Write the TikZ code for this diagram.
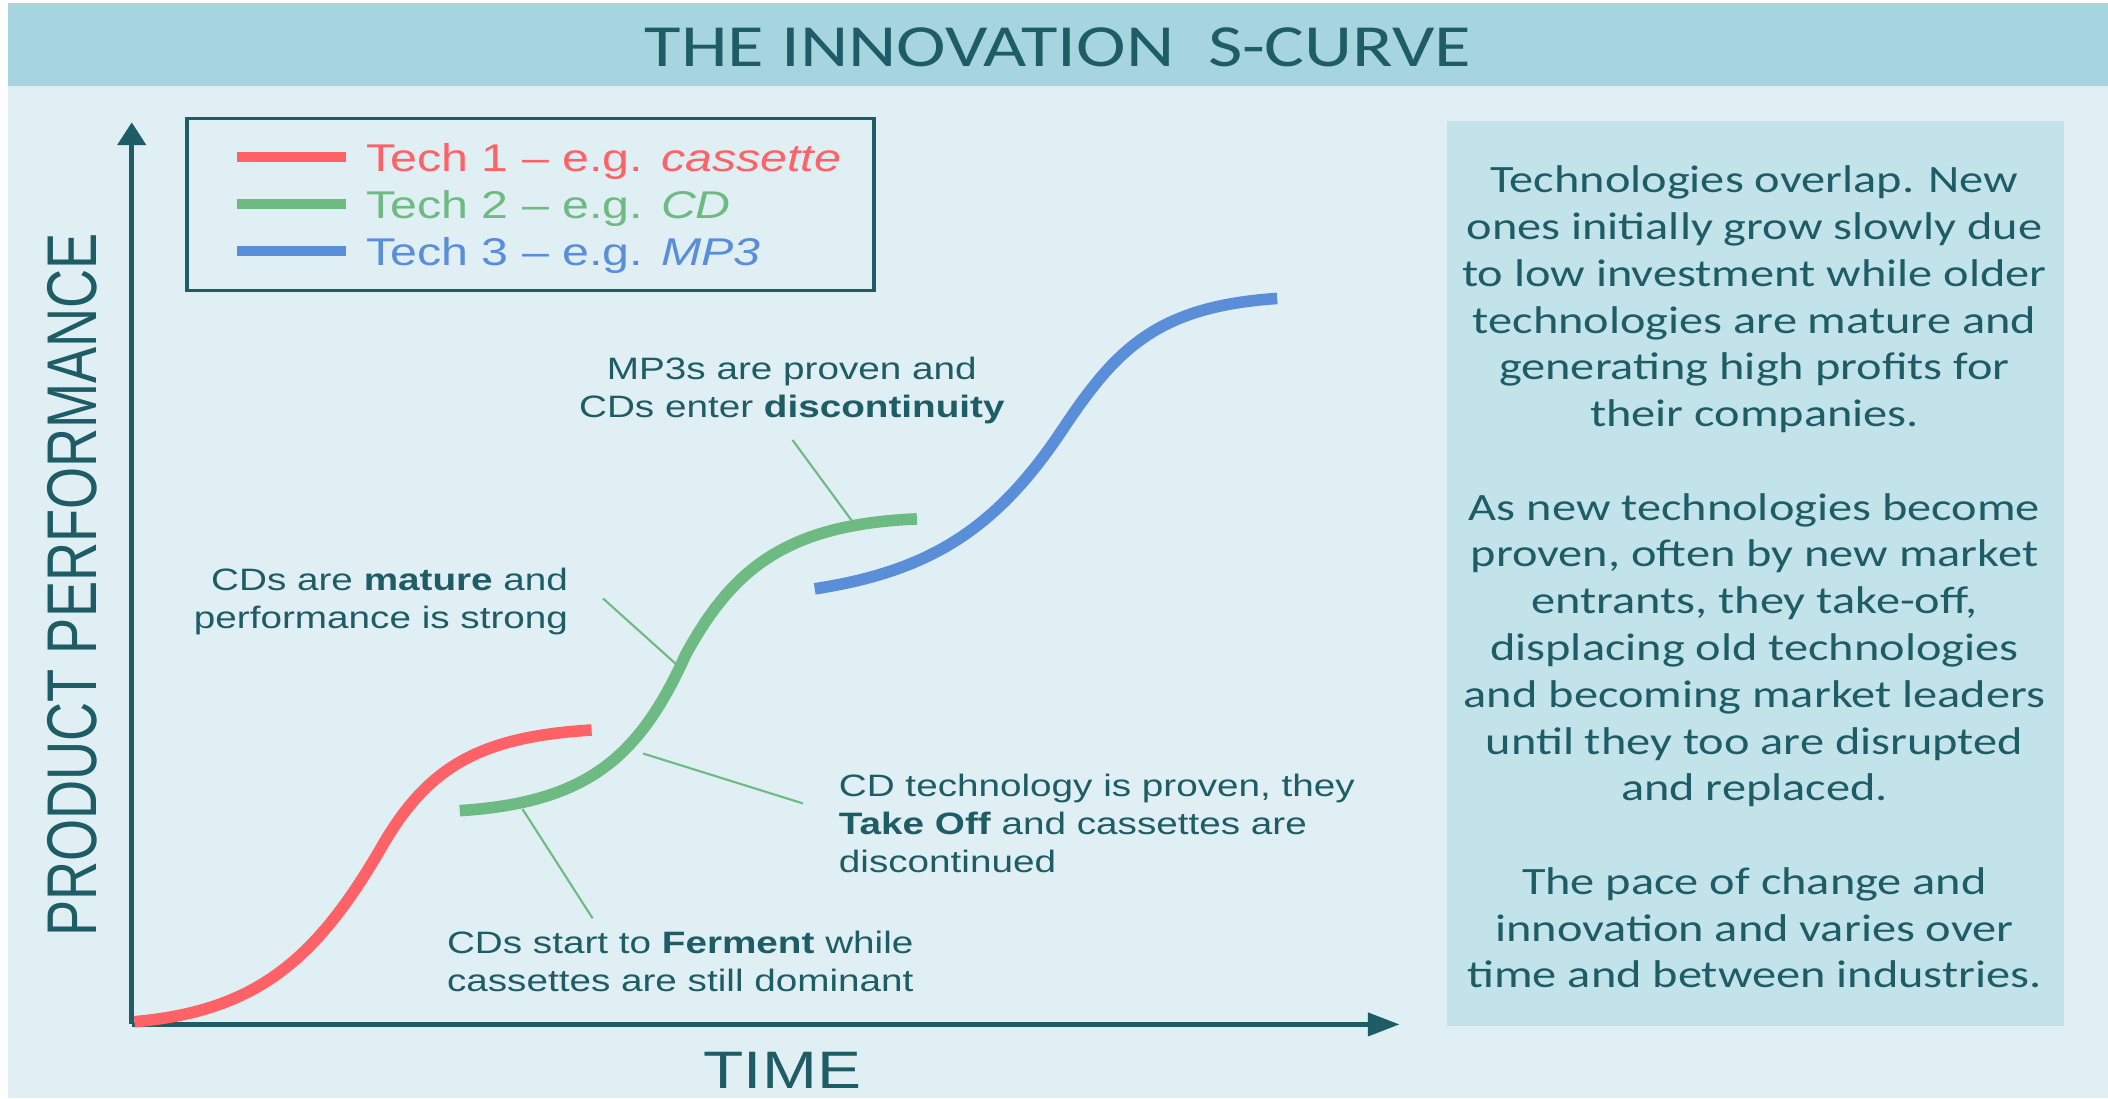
\documentclass[tikz,border=0pt]{standalone}
\usepackage{fontspec}
\setmainfont{Liberation Sans}
\newfontfamily\widearial{Liberation Sans}[FakeStretch=1.25]
\newfontfamily\widecalibri{Carlito}[FakeStretch=1.25]
\usetikzlibrary{arrows.meta}
\definecolor{scBack}{HTML}{E0EFF3}
\definecolor{scBand}{HTML}{A6D5DF}
\definecolor{scBox}{HTML}{C3E3EA}
\definecolor{scInk}{HTML}{1E5C66}
\definecolor{scRed}{HTML}{FF6266}
\definecolor{scGreen}{HTML}{6DBB83}
\definecolor{scBlue}{HTML}{5A8ED8}
\tikzset{
  axis/.style={draw=scInk, line width=1.3pt},
  curve/.style={line width=3.3pt},
  pointer/.style={draw=scGreen, line width=0.6pt},
  note/.style={inner sep=0pt, text=scInk, font=\widearial\fontsize{8.8}{10.8}\selectfont},
  legtext/.style={inner sep=0pt, font=\widearial\fontsize{11}{13}\selectfont},
  blurb/.style={inner sep=0pt, text=scInk, align=center, font=\widecalibri\fontsize{11}{13.3}\selectfont}
}

\begin{document}
\begin{tikzpicture}[x=0.1344mm, y=-0.1344mm]
			%%%%% START %%%%%
			
			\useasboundingbox (0,0) rectangle (1568,817);
			\fill[white] (0,0) rectangle (1568,817);
			\fill[scBack] (6,2.6) rectangle (1568,817);
			\fill[scBand] (6,2.6) rectangle (1568,64);
			\node[inner sep=0pt, text=scInk, font=\widecalibri\fontsize{17}{20}\selectfont] (title) at (787,35) {THE INNOVATION\ \ S-CURVE};
			
			\fill[scBox] (1076,90) rectangle (1535,763);
			\node[blurb, anchor=north] (blurb) at (1305,123) {Technologies overlap. New\\
				ones initially grow slowly due\\
				to low investment while older\\
				technologies are mature and\\
				generating high profits for\\
				their companies.\\[13.3pt]
				As new technologies become\\
				proven, often by new market\\
				entrants, they take-off,\\
				displacing old technologies\\
				and becoming market leaders\\
				until they too are disrupted\\
				and replaced.\\[13.3pt]
				The pace of change and\\
				innovation and varies over\\
				time and between industries.};
			
			%%%%% AXES %%%%%
			\coordinate (origin) at (98,762);
			\coordinate (ytip) at (98,91);
			\coordinate (xtip) at (1041,762);
			\draw[axis, -{Triangle[length=6.5pt,width=8pt]}] (origin) -- (ytip);
			\draw[axis, -{Triangle[length=9pt,width=6.5pt]}] (origin) -- (xtip);
			\node[inner sep=0pt, text=scInk, font=\widearial\fontsize{15}{18}\selectfont] (time) at (582,796) {TIME};
			\node[inner sep=0pt, text=scInk, rotate=90, font=\fontsize{15.4}{18}\selectfont] (perf) at (53.5,435) {\scalebox{1}[1.3]{PRODUCT PERFORMANCE}};
			
			%%%%% LEGEND %%%%%
			\draw[draw=scInk, line width=1pt] (139,88) rectangle (650,216);
			\foreach \y/\c/\n/\e in {117/scRed/1/cassette, 152/scGreen/2/CD, 187/scBlue/3/MP3}{
				\draw[\c, line width=2.9pt] (176,\y) -- (257,\y);
				\node[legtext, text=\c, anchor=base west] (tech\n) at (272,\y+10.3) {Tech \n\ – e.g. \textit{\e}};
			}
			
			%%%%% CURVES %%%%%
			\draw[curve, scRed] (100,760) .. controls (190,752) and (235,715) .. (285,628)
				.. controls (320,568) and (360,548) .. (440,543);
			\draw[curve, scGreen] (342,603) .. controls (435,597) and (475,565) .. (510,487)
				.. controls (545,423) and (585,390) .. (682,386);
			\draw[curve, scBlue] (606,438) .. controls (690,425) and (740,395) .. (790,320)
				.. controls (830,260) and (860,228) .. (950,222);
			
			%%%%% NOTES %%%%%
			\node[note, align=center, anchor=north] (proven) at (589,265) {MP3s are proven and\\CDs enter \textbf{discontinuity}};
			\node[note, align=right, anchor=north east] (mature) at (423,422) {CDs are \textbf{mature} and\\performance is strong};
			\node[note, align=left, anchor=north west] (takeoff) at (623.5,575) {CD technology is proven, they\\\textbf{Take Off} and cassettes are\\discontinued};
			\node[note, align=left, anchor=north west] (ferment) at (332,692) {CDs start to \textbf{Ferment} while\\cassettes are still dominant};
			
			\coordinate (provenA) at (589.5,327.3);
			\coordinate (provenB) at (634.3,388.3);
			\coordinate (matureA) at (448.5,445.1);
			\coordinate (matureB) at (504,495);
			\coordinate (takeoffA) at (597.2,597.6);
			\coordinate (takeoffB) at (478.4,560.5);
			\coordinate (fermentA) at (440.8,683.1);
			\coordinate (fermentB) at (388.7,601.9);
			\draw[pointer] (provenA) -- (provenB);
			\draw[pointer] (matureA) -- (matureB);
			\draw[pointer] (takeoffA) -- (takeoffB);
			\draw[pointer] (fermentA) -- (fermentB);
			
			%%%%% END %%%%%
\end{tikzpicture}
\end{document}
